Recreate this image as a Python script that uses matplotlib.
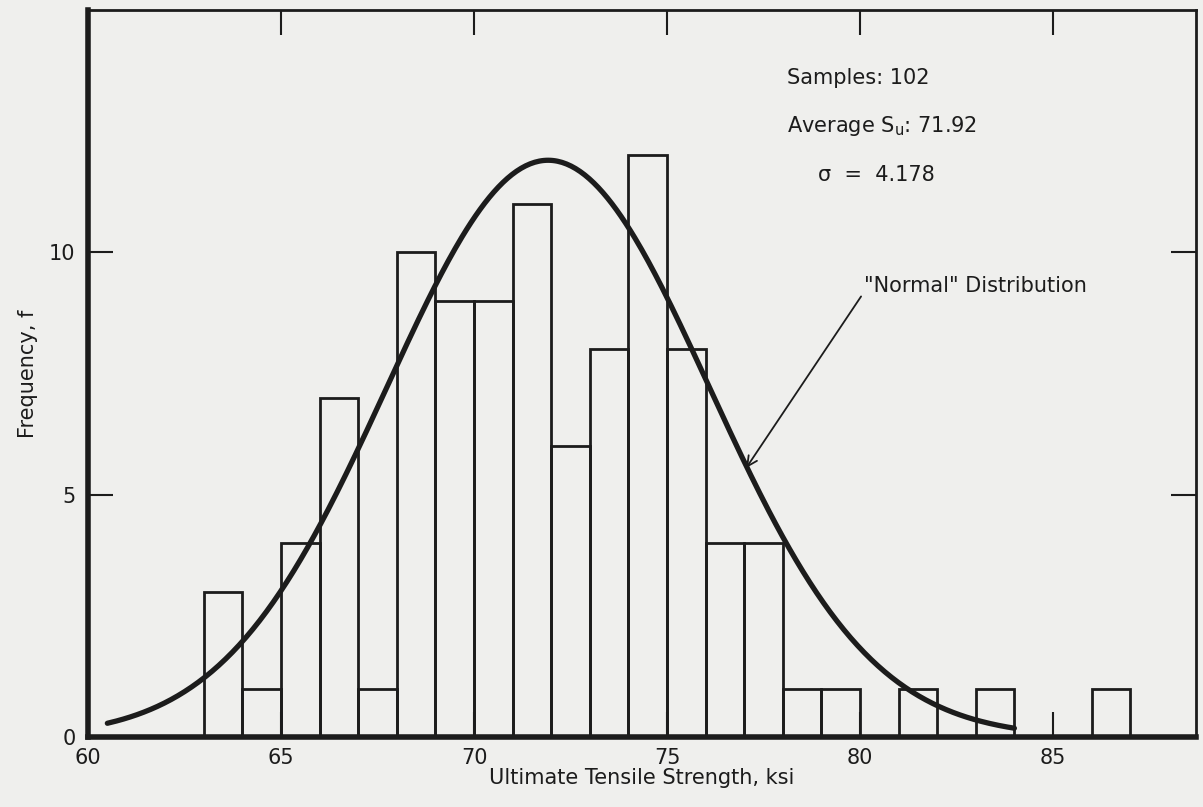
import numpy as np
import matplotlib
matplotlib.use("Agg")
import matplotlib.pyplot as plt

# ---- data ----
bin_left = [63, 64, 65, 66, 67, 68, 69, 70, 71, 72, 73, 74, 75, 76, 77, 78, 79, 80, 81, 82, 83, 84, 85, 86]
counts   = [3, 1, 4, 7, 1, 10, 9, 9, 11, 6, 8, 12, 8, 4, 4, 1, 1, 0, 1, 0, 1, 0, 0, 1]
mean_su = 71.92
sigma = 4.178
curve_peak = 11.9
curve_start, curve_end = 60.5, 84.0
x_ticks = [60, 65, 70, 75, 80, 85]
y_ticks = [0, 5, 10]

ink = "#1c1c1c"
bg = "#efefed"
plt.rcParams["font.family"] = ["DejaVu Sans"]
plt.rcParams["mathtext.default"] = "regular"

fig = plt.figure(figsize=(12.03, 8.07), dpi=100, facecolor=bg)
ax = fig.add_axes([0.0732, 0.0867, 0.9208, 0.9009])
ax.set_facecolor(bg)

ax.bar(bin_left, counts, width=1.0, align="edge", fill=False,
       edgecolor=ink, linewidth=2.0)

xc = np.linspace(curve_start, curve_end, 400)
yc = curve_peak * np.exp(-((xc - mean_su) ** 2) / (2 * sigma ** 2))
ax.plot(xc, yc, color=ink, linewidth=3.8, solid_capstyle="round")

ax.set_xlim(60, 88.7)
ax.set_ylim(0, 15.0)
ax.set_xticks(x_ticks)
ax.set_yticks(y_ticks)
ax.tick_params(direction="in", length=18, width=1.5, colors=ink,
               labelsize=15, top=True, right=True, labeltop=False, labelright=False)
ax.tick_params(axis="x", pad=8)
ax.tick_params(axis="y", pad=9)
for s in ["left", "bottom"]:
    ax.spines[s].set_linewidth(4)
for s in ["top", "right"]:
    ax.spines[s].set_linewidth(2)
for s in ax.spines.values():
    s.set_color(ink)

ax.set_xlabel("Ultimate Tensile Strength, ksi", fontsize=15, color=ink, labelpad=0)
ax.set_ylabel("Frequency, f", fontsize=15, color=ink, labelpad=8)

ax.text(78.1, 13.6, "Samples: 102", fontsize=15, color=ink, va="center")
ax.text(78.1, 12.6, "Average S$_u$: 71.92", fontsize=15, color=ink, va="center")
ax.text(78.9, 11.6, "\u03c3  =  4.178", fontsize=15, color=ink, va="center")

ax.annotate('"Normal" Distribution', xy=(77.05, 5.55), xytext=(80.1, 9.3),
            fontsize=15, color=ink, va="center", ha="left",
            arrowprops=dict(arrowstyle="->", color=ink, lw=1.3,
                            shrinkA=0, shrinkB=0, mutation_scale=18,
                            relpos=(0.0, 0.2)))

fig.savefig("out.png", dpi=100, facecolor=bg)
